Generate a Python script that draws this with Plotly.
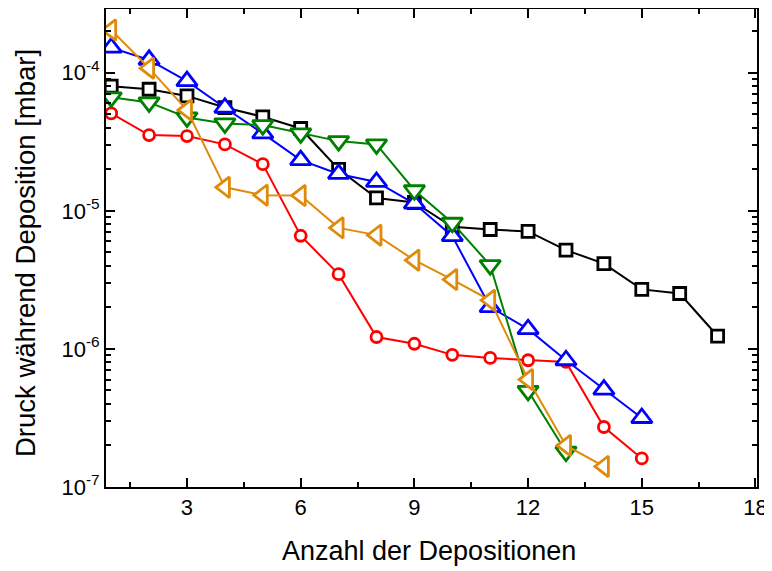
import plotly.graph_objects as go

# x positions (deposition count)
x_black = list(range(1, 18))
y_black = [8.0e-5, 7.6e-5, 6.8e-5, 5.6e-5, 4.8e-5, 3.95e-5, 2.0e-5, 1.24e-5, 1.15e-5,
           7.66e-6, 7.33e-6, 7.1e-6, 5.2e-6, 4.15e-6, 2.7e-6, 2.52e-6, 1.24e-6]

x_red = list(range(1, 16))
y_red = [5.08e-5, 3.54e-5, 3.48e-5, 3.03e-5, 2.18e-5, 6.6e-6, 3.48e-6, 1.22e-6, 1.09e-6,
         9.06e-7, 8.6e-7, 8.28e-7, 8.05e-7, 2.72e-7, 1.61e-7]

x_blue = list(range(1, 16))
y_blue = [1.52e-4, 1.24e-4, 8.7e-5, 5.58e-5, 3.64e-5, 2.33e-5, 1.85e-5, 1.62e-5, 1.13e-5,
          6.56e-6, 2.01e-6, 1.39e-6, 8.28e-7, 5.08e-7, 3.16e-7]

x_green = list(range(1, 14))
y_green = [6.64e-5, 6.1e-5, 4.75e-5, 4.3e-5, 4.18e-5, 3.64e-5, 3.2e-5, 3.03e-5, 1.41e-5,
           8.2e-6, 4.04e-6, 4.97e-7, 1.8e-7]

x_orange = list(range(1, 15))
y_orange = [2.04e-4, 1.08e-4, 5.37e-5, 1.48e-5, 1.3e-5, 1.29e-5, 7.53e-6, 6.67e-6, 4.39e-6,
            3.18e-6, 2.25e-6, 6.0e-7, 2.0e-7, 1.41e-7]

x_ticks = [3, 6, 9, 12, 15, 18]
y_ticks = [1e-7, 1e-6, 1e-5, 1e-4]
y_ticktext = ["10<sup>-7</sup>", "10<sup>-6</sup>", "10<sup>-5</sup>", "10<sup>-4</sup>"]

x_title = "Anzahl der Depositionen"
y_title = "Druck während Deposition [mbar]"

series = [
    (x_black, y_black, "#000000", "square", 12),
    (x_red, y_red, "#FF0000", "circle", 11),
    (x_blue, y_blue, "#0000FF", "triangle-up", 18),
    (x_green, y_green, "#008000", "triangle-down", 18),
    (x_orange, y_orange, "#E08A0B", "triangle-left", 18),
]

fig = go.Figure()
for xs, ys, col, sym, sz in series:
    fig.add_trace(go.Scatter(
        x=xs, y=ys, mode="lines+markers",
        line=dict(color=col, width=2),
        marker=dict(symbol=sym, size=sz, color="white",
                    line=dict(color=col, width=2.8)),
        showlegend=False,
    ))

minor_y = [m * 10 ** e for e in range(-7, -3) for m in range(2, 10)]

# the page body adds an 8px offset, so the figure is 8px smaller than the window
font = "Liberation Sans, Arial, sans-serif"
fig.update_layout(
    width=764, height=563,
    margin=dict(l=98, r=15, t=1, b=84, autoexpand=False),
    plot_bgcolor="white", paper_bgcolor="white",
    font=dict(family=font, color="black", size=22),
)
fig.update_xaxes(
    range=[0.863, 18.04], tickmode="array", tickvals=x_ticks,
    ticks="inside", ticklen=9, tickwidth=2, tickcolor="black",
    showline=True, linewidth=2, linecolor="black", mirror="ticks",
    showgrid=False, zeroline=False, automargin=False,
    tickfont=dict(size=22, family=font),
    minor=dict(tick0=0, dtick=1.5, ticks="inside", ticklen=5,
               tickwidth=2, tickcolor="black", showgrid=False),
)
fig.update_yaxes(
    type="log", range=[-7, -3.538], tickmode="array", tickvals=y_ticks,
    ticktext=y_ticktext,
    ticks="inside", ticklen=9, tickwidth=2, tickcolor="black",
    showline=True, linewidth=2, linecolor="black", mirror="ticks",
    showgrid=False, zeroline=False, automargin=False,
    tickfont=dict(size=22, family=font),
    minor=dict(tickmode="array", tickvals=minor_y, ticks="inside", ticklen=5,
               tickwidth=2, tickcolor="black", showgrid=False),
)
fig.add_annotation(text=x_title, xref="paper", yref="paper",
                   x=0.496, y=-0.134, xanchor="center", yanchor="middle",
                   showarrow=False, font=dict(size=27, family=font, color="black"))
fig.add_annotation(text=y_title, xref="paper", yref="paper",
                   x=-0.1244, y=0.4895, xanchor="center", yanchor="middle",
                   textangle=-90, showarrow=False,
                   font=dict(size=27.5, family=font, color="black"))

fig.write_html("out.html")
